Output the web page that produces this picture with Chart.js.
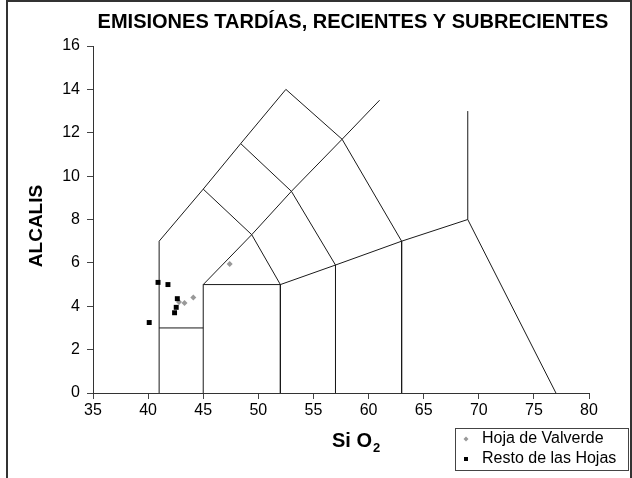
<!DOCTYPE html>
<html>
<head>
<meta charset="utf-8">
<script src="https://cdn.jsdelivr.net/npm/chart.js@4/dist/chart.umd.min.js"></script>
<style>
  html, body { margin: 0; padding: 0; background: #fff; }
  #wrap { width: 632px; height: 478px; position: relative; }
</style>
</head>
<body>
<div id="wrap"><canvas id="tas" width="632" height="478"></canvas></div>
<script>
// Sample compositions: SiO2 (wt %) and total alkalis Na2O + K2O (wt %)
const valverdeSiO2 = [42.8, 43.3, 44.1, 47.4];
const valverdeAlk  = [4.2, 4.15, 4.4, 5.95];
const restoSiO2 = [40.1, 40.9, 41.8, 42.65, 42.55, 42.4];
const restoAlk  = [3.25, 5.1, 5.0, 4.35, 3.95, 3.7];

// TAS classification field boundaries (SiO2, alkalis)
const outerBoundary = [[41,0],[41,7],[45,9.4],[48.4,11.5],[52.5,14],[57.6,11.7],[63,7],[63,0]];
const picrobasaltTop = [[41,3],[45,3]];
const basaltField = [[45,0],[45,5],[52,5],[52,0]];
const trachyDiagonal = [[45,5],[49.4,7.3],[53,9.3],[57.6,11.7],[61,13.5]];
const subalkalineTop = [[45,9.4],[49.4,7.3],[52,5],[57,5.9],[63,7],[69,8],[77,0]];
const andesiteDivide = [[48.4,11.5],[53,9.3],[57,5.9],[57,0]];
const rhyoliteDivide = [[69,8],[69,13]];

const xTicks = [35, 40, 45, 50, 55, 60, 65, 70, 75, 80];
const yTicks = [0, 2, 4, 6, 8, 10, 12, 14, 16];

const seriesNames = ['Hoja de Valverde', 'Resto de las Hojas'];

const toPoints = (xs, ys) => xs.map((x, i) => ({ x: x, y: ys[i] }));
const toLine = (pairs) => pairs.map(p => ({ x: p[0], y: p[1] }));

const boundaries = [outerBoundary, picrobasaltTop, basaltField, trachyDiagonal,
                    subalkalineTop, andesiteDivide, rhyoliteDivide];

const lineSets = boundaries.map(b => ({
  label: '',
  isBoundary: true,
  data: toLine(b),
  showLine: true,
  borderColor: '#1a1a1a',
  borderWidth: 1,
  pointRadius: 0,
  fill: false,
  tension: 0,
  order: 5
}));

const FONT = '"Liberation Sans", Arial, sans-serif';

// Title, axis titles, frame and legend drawn on the canvas
const decor = {
  id: 'decor',
  afterDraw(chart) {
    const ctx = chart.ctx;
    ctx.save();
    // frame
    ctx.strokeStyle = '#333';
    ctx.lineWidth = 2;
    ctx.beginPath();
    ctx.moveTo(7, 478);
    ctx.lineTo(7, 1);
    ctx.lineTo(631, 1);
    ctx.lineTo(631, 478);
    ctx.stroke();

    ctx.fillStyle = '#000';
    // title
    ctx.font = 'bold 20px ' + FONT;
    ctx.textAlign = 'center';
    ctx.textBaseline = 'alphabetic';
    ctx.fillText('EMISIONES TARDÍAS, RECIENTES Y SUBRECIENTES', 353, 28);

    // y axis title
    ctx.save();
    ctx.translate(37, 226);
    ctx.rotate(-Math.PI / 2);
    ctx.font = 'bold 19px ' + FONT;
    ctx.textBaseline = 'middle';
    ctx.fillText('ALCALIS', 0, 0);
    ctx.restore();

    // x axis title with subscript
    ctx.textAlign = 'left';
    ctx.font = 'bold 20px ' + FONT;
    const main = 'Si O';
    const w = ctx.measureText(main).width;
    const x0 = 332;
    ctx.fillText(main, x0, 447);
    ctx.font = 'bold 13px ' + FONT;
    ctx.fillText('2', x0 + w + 1, 452);

    // legend
    const lx = 455, ly = 428, lw = 173, lh = 42;
    ctx.fillStyle = '#fff';
    ctx.fillRect(lx, ly, lw, lh);
    ctx.strokeStyle = '#444';
    ctx.lineWidth = 1;
    ctx.strokeRect(lx + 0.5, ly + 0.5, lw, lh);
    ctx.font = '16px ' + FONT;
    ctx.textBaseline = 'middle';
    const sets = seriesNames.map(n => chart.data.datasets.find(d => d.label === n));
    sets.forEach((ds, i) => {
      const cy = ly + 11 + i * 20;
      ctx.fillStyle = ds.backgroundColor;
      if (ds.pointStyle === 'rectRot') {
        ctx.beginPath();
        ctx.moveTo(466, cy - 2.5);
        ctx.lineTo(468.5, cy);
        ctx.lineTo(466, cy + 2.5);
        ctx.lineTo(463.5, cy);
        ctx.closePath();
        ctx.fill();
      } else {
        ctx.fillRect(464, cy - 2, 4, 4);
      }
      ctx.fillStyle = '#000';
      ctx.fillText(ds.label, 482, cy);
    });
    ctx.restore();
  }
};

new Chart(document.getElementById('tas'), {
  type: 'scatter',
  data: {
    datasets: [
      {
        label: seriesNames[1],
        data: toPoints(restoSiO2, restoAlk),
        pointStyle: 'rect',
        pointRadius: 3.5,
        backgroundColor: '#000',
        borderColor: '#000',
        borderWidth: 0,
        order: 0
      },
      {
        label: seriesNames[0],
        data: toPoints(valverdeSiO2, valverdeAlk),
        pointStyle: 'rectRot',
        pointRadius: 3,
        backgroundColor: '#999',
        borderColor: '#999',
        borderWidth: 0,
        order: 1
      },
      ...lineSets
    ]
  },
  options: {
    responsive: false,
    animation: false,
    layout: { padding: { left: 0, top: 46, right: 43, bottom: 0 } },
    plugins: {
      legend: { display: false },
      tooltip: { enabled: false },
      title: { display: false }
    },
    scales: {
      x: {
        type: 'linear',
        min: xTicks[0],
        max: xTicks[xTicks.length - 1],
        afterBuildTicks: (s) => { s.ticks = xTicks.map(v => ({ value: v })); },
        afterFit: (s) => { s.height = 85; },
        ticks: { color: '#000', font: { family: FONT, size: 16 }, padding: 2, maxRotation: 0 },
        grid: { drawOnChartArea: false, drawTicks: true, tickLength: 6, color: '#444' },
        border: { display: true, color: '#333', width: 1 }
      },
      y: {
        type: 'linear',
        min: yTicks[0],
        max: yTicks[yTicks.length - 1],
        afterBuildTicks: (s) => { s.ticks = yTicks.map(v => ({ value: v })); },
        afterFit: (s) => { s.width = 93; },
        ticks: { color: '#000', font: { family: FONT, size: 16 }, padding: 7 },
        grid: { drawOnChartArea: false, drawTicks: true, tickLength: 6, color: '#444' },
        border: { display: true, color: '#333', width: 1 }
      }
    }
  },
  plugins: [decor]
});
</script>
</body>
</html>
